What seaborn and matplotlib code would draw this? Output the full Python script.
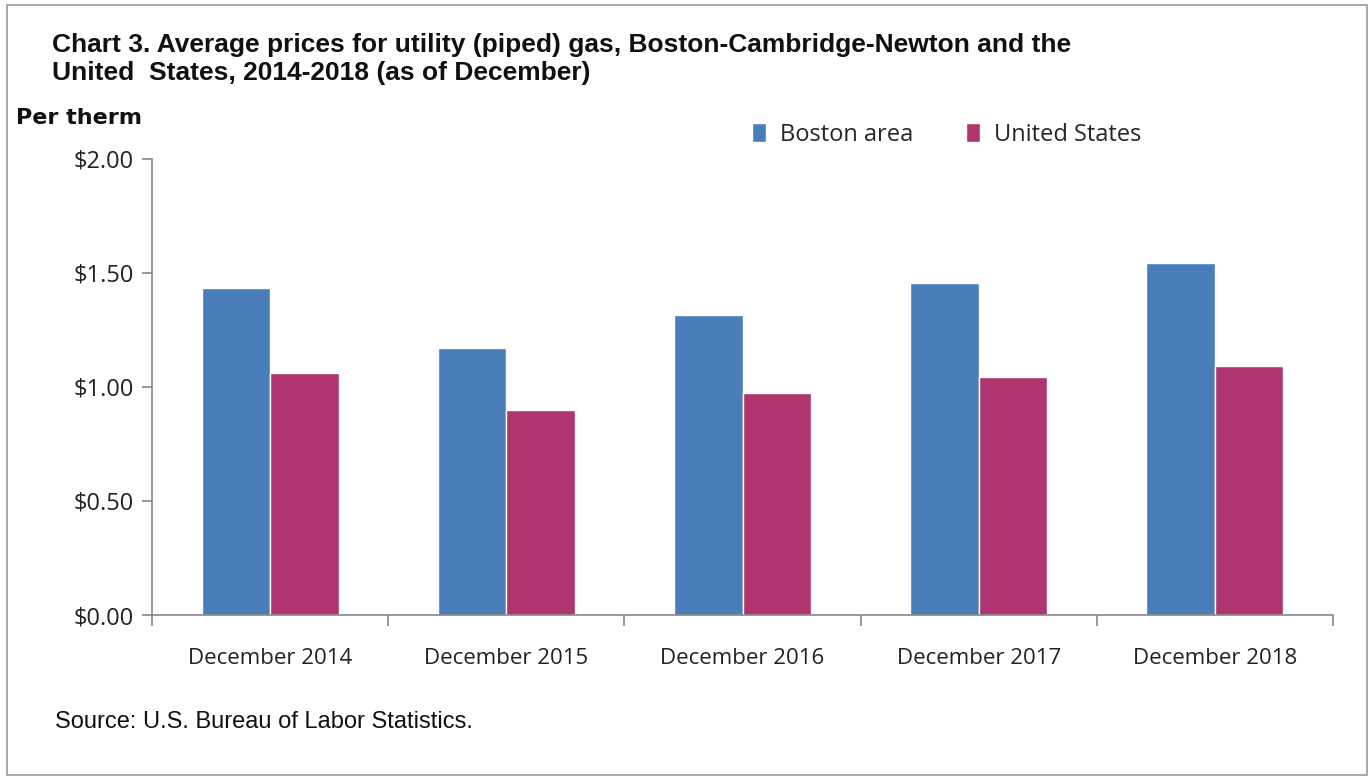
import matplotlib
matplotlib.use('Agg')
import matplotlib.pyplot as plt
import seaborn as sns
import pandas as pd
from matplotlib.patches import Rectangle
from matplotlib.ticker import FuncFormatter

# data
periods = ['December 2014', 'December 2015', 'December 2016', 'December 2017', 'December 2018']
boston = [1.434, 1.171, 1.316, 1.456, 1.544]
united_states = [1.061, 0.899, 0.974, 1.044, 1.092]
series = ['Boston area', 'United States']
colors = ['#4a7ebb', '#b0346e']

df = pd.DataFrame({
    'period': periods * 2,
    'price': boston + united_states,
    'area': [series[0]] * len(periods) + [series[1]] * len(periods),
})

sns.set_style('white')
label_font = ['Open Sans', 'Noto Sans', 'DejaVu Sans']
title_font = ['Liberation Sans', 'DejaVu Sans']

fig = plt.figure(figsize=(13.7, 7.79), dpi=100)
ax = fig.add_axes([0.111, 0.2105, 0.862, 0.5855])

sns.barplot(data=df, x='period', y='price', hue='area', palette=colors,
            width=0.58, saturation=1, ax=ax, legend=True)

ax.set_ylim(0, 2.0)
ax.set_xlim(-0.5, len(periods) - 0.5)
ax.set_yticks([0, 0.5, 1.0, 1.5, 2.0])
ax.yaxis.set_major_formatter(FuncFormatter(lambda v, p: f'${v:.2f}'))
ax.set_xlabel('')
ax.set_ylabel('')

for s in ['top', 'right']:
    ax.spines[s].set_visible(False)
for s in ['left', 'bottom']:
    ax.spines[s].set_color('#888888')
    ax.spines[s].set_linewidth(1.2)

# x ticks sit between the categories
ax.set_xticks([i for i in range(len(periods))])
ax.set_xticklabels(periods, fontfamily=label_font, fontsize=16, color='#222222')
ax.set_xticks([i - 0.5 for i in range(len(periods) + 1)], minor=True)
ax.tick_params(axis='x', which='major', bottom=False, length=0, pad=24)
ax.tick_params(axis='x', which='minor', bottom=True, length=8, width=1.2, color='#888888', direction='out')
ax.tick_params(axis='y', left=True, length=7, width=1.2, color='#888888', direction='out', pad=6)
for lbl in ax.get_yticklabels():
    lbl.set_fontfamily(label_font)
    lbl.set_fontsize(17)
    lbl.set_color('#222222')

handles, labels = ax.get_legend_handles_labels()
ax.legend(handles, labels, loc='lower left', bbox_to_anchor=(0.49, 0.98), ncol=2,
          frameon=False, handlelength=0.6, handleheight=0.9, handletextpad=0.6,
          columnspacing=2.2, prop={'family': label_font, 'size': 17})

fig.text(0.038, 0.958, 'Chart 3. Average prices for utility (piped) gas, Boston-Cambridge-Newton and the\nUnited  States, 2014-2018 (as of December)',
         fontsize=19, fontweight='bold', family=title_font, va='top', linespacing=1.2, color='#111111')
fig.text(0.012, 0.848, 'Per therm', fontsize=16, fontweight='bold', family=['DejaVu Sans'], va='center', color='#111111')
fig.text(0.04, 0.073, 'Source: U.S. Bureau of Labor Statistics.', fontsize=17, family=title_font,
         va='center', color='#111111')

# thin grey frame around the whole picture
fig.patches.append(Rectangle((0.005, 0.005), 0.993, 0.988, transform=fig.transFigure,
                             fill=False, edgecolor='#999999', linewidth=1.2))

fig.savefig('out.png', dpi=100)
